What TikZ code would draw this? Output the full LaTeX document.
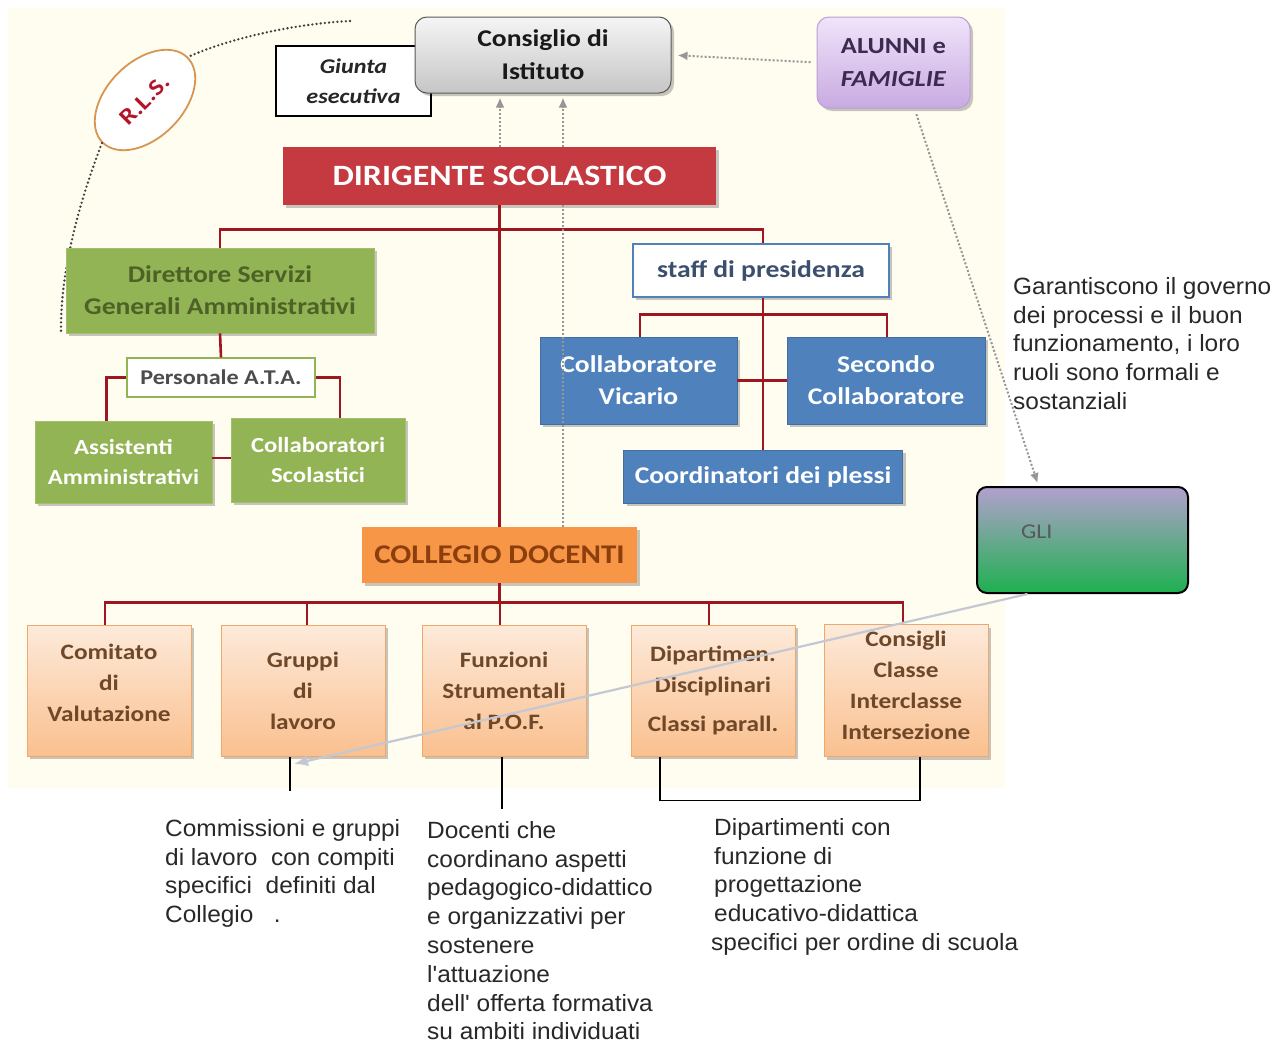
\documentclass[tikz,border=0pt]{standalone}
\usepackage{fontspec}
\setmainfont[FakeStretch=1.15]{Carlito}
\newfontfamily\arialf[FakeStretch=1.04]{Liberation Sans}
\usetikzlibrary{arrows.meta,shapes.geometric,shadows}
\definecolor{cream}{RGB}{255,253,240}
\definecolor{treered}{RGB}{160,22,32}
\definecolor{dirred}{RGB}{196,58,64}
\definecolor{ogreen}{RGB}{146,180,84}
\definecolor{dgreen}{RGB}{78,98,40}
\definecolor{oblue}{RGB}{79,129,189}
\definecolor{staffblue}{RGB}{60,80,110}
\definecolor{oorange}{RGB}{247,150,70}
\definecolor{brownor}{RGB}{140,62,12}
\definecolor{peachtop}{RGB}{253,234,218}
\definecolor{peachbot}{RGB}{250,192,143}
\definecolor{peachdraw}{RGB}{238,168,110}
\definecolor{peachtext}{RGB}{110,72,40}
\definecolor{rlsorange}{RGB}{215,150,80}
\definecolor{rlsred}{RGB}{180,20,40}
\definecolor{lavtop}{RGB}{240,228,250}
\definecolor{lavbot}{RGB}{200,170,225}
\definecolor{lavdraw}{RGB}{185,160,210}
\definecolor{alutext}{RGB}{60,42,80}
\definecolor{glitop}{RGB}{178,160,205}
\definecolor{glibot}{RGB}{30,176,80}
\definecolor{dotgray}{RGB}{150,150,150}
\definecolor{lightline}{RGB}{195,200,210}
\definecolor{annot}{RGB}{40,40,40}
\newcommand\myfs[2]{\fontsize{#1}{#2}\selectfont}
\newcommand\liftup[2]{\raisebox{#1}[\dimexpr\height+#1\relax][\dimexpr\depth+#1\relax]{\begin{tabular}{@{}c@{}}#2\end{tabular}}}
\begin{document}
\begin{tikzpicture}[x=1pt,y=-1pt,
  shad/.style={drop shadow={shadow xshift=3pt,shadow yshift=-3pt,opacity=0.22,fill=black}},
  basebox/.style={inner sep=0pt,align=center},
  greenbox/.style={basebox,shad,fill=ogreen,draw=ogreen!85!white,line width=0.8pt},
  bluebox/.style={basebox,shad,fill=oblue,draw=oblue!85!black,line width=0.8pt,text=white,font=\myfs{24}{32}\bfseries},
  peachbox/.style={basebox,shad,top color=peachtop,bottom color=peachbot,draw=peachdraw,line width=1pt,text=peachtext,
     font=\myfs{22}{31}\bfseries,minimum width=164pt,minimum height=131pt},
  tree/.style={treered,line width=2.6pt},
  dotline/.style={dotgray,line width=2pt,dash pattern=on 2pt off 2pt},
  dotarrow/.style={dotline,-{Latex[length=10pt,width=9pt]}},
  blackdot/.style={black!75,line width=2.6pt,line cap=round,dash pattern=on 0pt off 4.2pt},
  annotline/.style={black,line width=1.1pt},
  annottext/.style={inner sep=0pt,anchor=north west,align=left,text=annot,font=\arialf\myfs{23.5}{28.8}}
]
\useasboundingbox (0,0) rectangle (1274,1042);
\fill[white] (0,0) rectangle (1274,1042);
\fill[cream] (8,8) rectangle (1005,788);

% ---------- top ----------
\node[basebox,fill=white,draw=black,line width=2.5pt,minimum width=155pt,minimum height=70pt,
      font=\myfs{21}{30}\bfseries\itshape,text=black!85] (giunta) at (353.5,81) {Giunta\\esecutiva};
\node[basebox,shad,rounded corners=12pt,top color=gray!8,bottom color=gray!45,draw=gray!70!black,line width=1pt,
      minimum width=256pt,minimum height=76pt,font=\myfs{24}{33}\bfseries,text=black!90] (cons) at (543,55) {Consiglio di\\Istituto};
\node[basebox,shad,rounded corners=12pt,top color=lavtop,bottom color=lavbot,draw=lavdraw,line width=1pt,
      minimum width=153pt,minimum height=91pt,font=\myfs{23}{33}\bfseries,text=alutext] (alunni) at (893.5,62.5) {ALUNNI e\\\textit{FAMIGLIE}};
\node[ellipse,draw=rlsorange,line width=1.8pt,fill=white,minimum width=120pt,minimum height=76pt,rotate=45,
      inner sep=0pt,font=\myfs{23}{26}\bfseries,text=rlsred] (rls) at (145,100) {R.L.S.};
\coordinate (arcA) at (350,21);
\coordinate (arcB) at (61,333);
\draw[blackdot] (arcA) .. controls (290,24) and (225,40) .. (rls.east);
\draw[blackdot] (rls.west) .. controls (80,200) and (60,270) .. (arcB);

\node[basebox,shad,fill=dirred,minimum width=433pt,minimum height=58pt,text=white,font=\myfs{29.5}{34}\bfseries] (dir) at (499.5,176) {DIRIGENTE SCOLASTICO};

% ---------- left branch ----------
\node[greenbox,minimum width=308pt,minimum height=85pt,text=dgreen,font=\myfs{24}{32}\bfseries] (dsga) at (220,290.5) {Direttore Servizi\\Generali Amministrativi};
\node[basebox,fill=white,draw=ogreen,line width=1.2pt,minimum width=188pt,minimum height=39pt,text=black!70,font=\myfs{21}{25}\bfseries] (ata) at (221,377.5) {Personale A.T.A.};
\node[greenbox,minimum width=177pt,minimum height=82pt,text=white,font=\myfs{21.5}{30}\bfseries] (assist) at (123.5,462) {Assistenti\\Amministrativi};
\node[greenbox,minimum width=174pt,minimum height=84pt,text=white,font=\myfs{21.5}{30}\bfseries] (collsc) at (318,460) {Collaboratori\\Scolastici};

% ---------- right branch ----------
\node[basebox,shad,fill=white,draw=oblue,line width=2pt,minimum width=256pt,minimum height=53pt,text=staffblue,font=\myfs{24}{28}\bfseries] (staff) at (761,270.5) {staff di presidenza};
\node[bluebox,minimum width=197pt,minimum height=87pt] (vicario) at (638.5,380.5) {Collaboratore\\Vicario};
\node[bluebox,minimum width=198pt,minimum height=87pt] (secondo) at (886,380.5) {Secondo\\Collaboratore};
\node[bluebox,minimum width=279pt,minimum height=53pt] (coord) at (763,476.5) {Coordinatori dei plessi};

% ---------- collegio ----------
\node[basebox,shad,fill=oorange,minimum width=275pt,minimum height=56pt,text=brownor,font=\myfs{27}{32}\bfseries] (collegio) at (499.5,555) {COLLEGIO DOCENTI};
\node[peachbox] (b1) at (109,690.5) {\liftup{6pt}{Comitato\\di\\Valutazione}};
\node[peachbox] (b2) at (303,690.5) {Gruppi\\di\\lavoro};
\node[peachbox] (b3) at (504,690.5) {Funzioni\\Strumentali\\al P.O.F.};
\node[peachbox] (b4) at (713,690.5) {Dipartimen.\\Disciplinari\\[8pt]Classi parall.};
\node[peachbox] (b5) at (906,690.5) {\liftup{4pt}{Consigli\\Classe\\Interclasse\\Intersezione}};

% ---------- tree lines ----------
\draw[tree] (dir.south) -- (collegio.north);
\draw[tree] (dsga.north) -- ++(0,-18) -| ([xshift=2pt]staff.north);
\draw[tree] (dsga.south) -- (ata.north);
\draw[tree] (ata.west) -| ([xshift=-17pt]assist.north);
\draw[tree] (ata.east) -| ([xshift=22pt]collsc.north);
\draw[tree] ([yshift=4pt]assist.east) -- ([yshift=2pt]collsc.west);
\draw[tree] ([xshift=2pt]staff.south) -- (coord.north);
\draw[tree] ([xshift=1.5pt]vicario.north) -- ++(0,-22) -| ([xshift=1pt]secondo.north);
\draw[tree] (vicario.east) -- (secondo.west);
\draw[tree] (collegio.south) -- ++(0,20);
\draw[tree] ([xshift=-4pt]b1.north) -- ++(0,-22) -| ([xshift=-3pt]b5.north);
\draw[tree] ([xshift=4pt]b2.north) -- ++(0,-22);
\draw[tree] ([xshift=-4pt]b3.north) -- ++(0,-22);
\draw[tree] ([xshift=-4pt]b4.north) -- ++(0,-22);

% ---------- dotted links ----------
\draw[dotline] ([xshift=63.5pt]collegio.north) -- ([xshift=63.5pt]collegio.north |- dir.south);
\draw[dotarrow,shorten >=4pt] ([xshift=0.5pt]dir.north) -- ([xshift=0.5pt]dir.north |- cons.south);
\draw[dotarrow,shorten >=4pt] ([xshift=63.5pt]dir.north) -- ([xshift=63.5pt]dir.north |- cons.south);
\draw[dotarrow,shorten >=6pt,shorten <=6pt] (alunni.west) -- (cons.east);

% ---------- GLI ----------
\node[basebox,rounded corners=10pt,top color=glitop,bottom color=glibot,draw=black,line width=2pt,
      minimum width=211pt,minimum height=106pt,text width=123pt,align=left,text depth=16pt,
      text=black!65,font=\myfs{21}{25}] (gli) at (1082.5,540) {GLI};
\draw[dotarrow,shorten <=6pt,shorten >=3pt] ([xshift=21pt]alunni.south) -- ([xshift=-44pt]gli.north);
\coordinate (gt) at (294,764);
\draw[lightline,line width=2.2pt,-{Latex[length=14pt,width=11pt]}] ([xshift=-55pt]gli.south) -- (gt);

% ---------- annotation lines ----------
\draw[annotline] ([xshift=-13pt]b2.south) -- ++(0,34);
\draw[annotline] ([xshift=-2pt]b3.south) -- ++(0,52);
\draw[annotline] ([xshift=-53pt]b4.south) -- ++(0,44) -| ([xshift=14pt]b5.south);

% ---------- annotation texts ----------
\node[annottext] (tgar) at (1013,277) {Garantiscono il governo\\dei processi e il buon\\funzionamento, i loro\\ruoli sono formali e\\sostanziali};
\node[annottext] (tcomm) at (165,819) {Commissioni e gruppi\\di lavoro\ \ con compiti\\specifici\ \ definiti dal\\Collegio\ \ \ .};
\node[annottext] (tdoc) at (427,821) {Docenti che\\coordinano aspetti\\pedagogico-didattico\\e organizzativi per\\sostenere\\l'attuazione\\dell' offerta formativa\\su ambiti individuati};
\node[annottext] (tdip) at (714,818) {Dipartimenti con\\funzione di\\progettazione\\educativo-didattica\\\hspace*{-3pt}specifici per ordine di scuola};
\end{tikzpicture}
\end{document}
